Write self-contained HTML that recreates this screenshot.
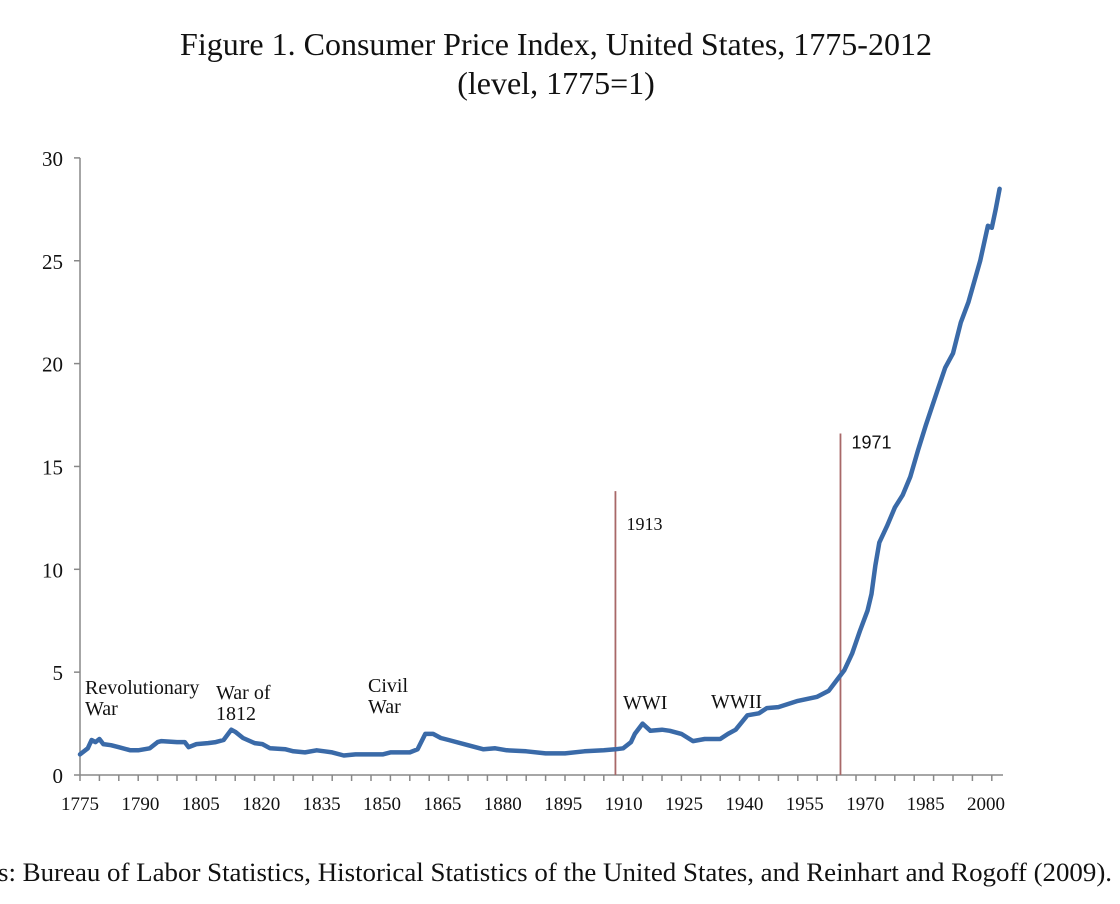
<!DOCTYPE html>
<html><head><meta charset="utf-8"><style>
body{margin:0;background:#fff;}
svg text{font-family:"Liberation Serif",serif;fill:#111;}
</style></head><body>
<svg width="1120" height="899" xmlns="http://www.w3.org/2000/svg">
<text x="556" y="55" font-size="32" text-anchor="middle">Figure 1. Consumer Price Index, United States, 1775-2012</text>
<text x="556" y="94" font-size="32" text-anchor="middle">(level, 1775=1)</text>
<g id="axes"></g>
<g id="plot"></g>
<text x="-2" y="881" font-size="26.5" textLength="1114" lengthAdjust="spacingAndGlyphs">s: Bureau of Labor Statistics, Historical Statistics of the United States, and Reinhart and Rogoff (2009).</text>
</svg>
<script>
const years=[1775,1777,1778,1779,1780,1781,1783,1785,1788,1790,1793,1795,1796,1800,1802,1803,1805,1808,1810,1812,1814,1815,1817,1820,1822,1824,1828,1830,1833,1836,1838,1840,1843,1846,1850,1853,1855,1857,1860,1862,1864,1866,1868,1870,1875,1879,1882,1885,1890,1895,1900,1905,1910,1913,1915,1917,1918,1920,1922,1925,1927,1930,1933,1936,1940,1942,1944,1947,1950,1952,1955,1960,1965,1968,1970,1972,1974,1976,1978,1979,1980,1981,1983,1985,1987,1989,1991,1993,1996,1998,2000,2002,2004,2007,2009,2010,2011,2012];
const cpi=[1.0,1.3,1.7,1.6,1.75,1.5,1.45,1.35,1.2,1.2,1.3,1.6,1.65,1.6,1.6,1.35,1.5,1.55,1.6,1.7,2.2,2.1,1.8,1.55,1.5,1.3,1.25,1.15,1.1,1.2,1.15,1.1,0.95,1.0,1.0,1.0,1.1,1.1,1.1,1.25,2.0,2.0,1.8,1.7,1.45,1.25,1.3,1.2,1.15,1.05,1.05,1.15,1.2,1.25,1.3,1.6,2.0,2.5,2.15,2.2,2.15,2.0,1.65,1.75,1.75,2.0,2.2,2.9,3.0,3.25,3.3,3.6,3.8,4.1,4.6,5.1,5.9,7.0,8.0,8.8,10.2,11.3,12.1,13.0,13.6,14.5,15.8,17.0,18.7,19.8,20.5,22.0,23.0,25.0,26.7,26.6,27.5,28.5];
const yTicks=[0,5,10,15,20,25,30];
const xLabels=[1775,1790,1805,1820,1835,1850,1865,1880,1895,1910,1925,1940,1955,1970,1985,2000];
const markerYears=[1913,1971];
const markerTops=[13.8,16.6];
const NS="http://www.w3.org/2000/svg";
const X=y=>80+(y-1775)*3.88;
const Y=v=>775-v*20.57;
const LX=i=>80+i*60.4;
function el(t,a,p){const e=document.createElementNS(NS,t);for(const k in a)e.setAttribute(k,a[k]);p.appendChild(e);return e;}
const ax=document.getElementById('axes'),pl=document.getElementById('plot');
let e=el('line',{x1:80,y1:Y(0),x2:80,y2:Y(30),stroke:'#888','stroke-width':1.5},ax);

e=el('line',{x1:80,y1:Y(0),x2:1003,y2:Y(0),stroke:'#888','stroke-width':1.5},ax);

yTicks.forEach(v=>{
 let t=el('line',{x1:74,y1:Y(v),x2:80,y2:Y(v),stroke:'#888','stroke-width':1.5},ax);
 
 let l=el('text',{x:63,y:Y(v)+8,'font-size':21,'text-anchor':'end'},ax);l.textContent=v;
 
});
for(let yr=1775;yr<=2012;yr+=5){
 let t=el('line',{x1:X(yr),y1:Y(0),x2:X(yr),y2:Y(0)+6,stroke:'#888','stroke-width':1.5},ax);
 
}
xLabels.forEach((v,i)=>{
 let l=el('text',{x:LX(i),y:810,'font-size':19,'text-anchor':'middle'},ax);l.textContent=v;
 
});
markerYears.forEach((yr,i)=>{
 let m=el('line',{x1:X(yr),y1:Y(0),x2:X(yr),y2:Y(markerTops[i]),stroke:'#a86868','stroke-width':1.8},pl);
 
 let l=el('text',{x:X(yr)+11,y:Y(markerTops[i])+(i==0?39:15),'font-size':18},pl);l.textContent=yr;
 if(i==1)l.setAttribute('style','font-family:"Liberation Sans",sans-serif');
 
});
const evPos=[[85,694,"Revolutionary","War"],[216,699,"War of","1812"],[368,692,"Civil","War"],[623,709,"WWI",""],[711,708,"WWII",""]];
evPos.forEach(p=>{
 let l=el('text',{x:p[0],y:p[1],'font-size':20},pl);
 let s1=el('tspan',{x:p[0]},l);s1.textContent=p[2];
 if(p[3]){let s2=el('tspan',{x:p[0],dy:21},l);s2.textContent=p[3];}
 
});
const d=years.map((yr,i)=>(i?'L':'M')+X(yr).toFixed(1)+','+Y(cpi[i]).toFixed(1)).join(' ');
const line=el('path',{d:d,fill:'none',stroke:'#3a6aa8','stroke-width':4.5,'stroke-linejoin':'round','stroke-linecap':'round'},pl);


</script>
</body></html>
